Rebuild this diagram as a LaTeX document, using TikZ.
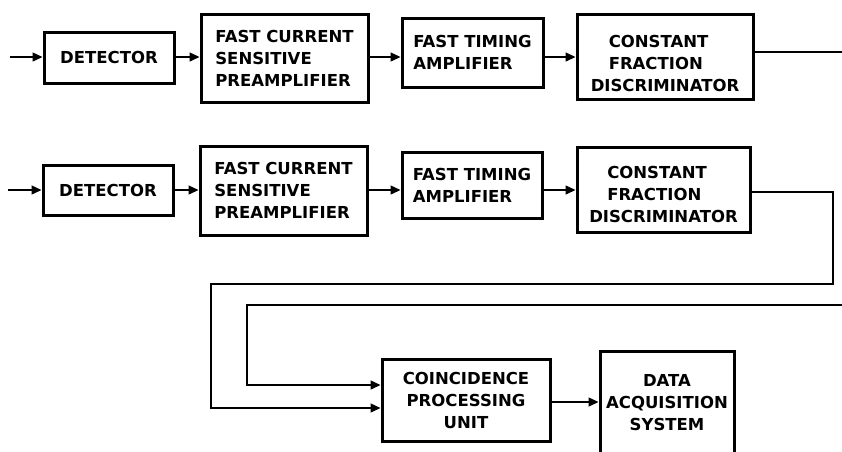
\documentclass[tikz,border=0pt]{standalone}
\usepackage{fontspec}
\setmainfont{DejaVu Sans}
\usetikzlibrary{arrows.meta}
\tikzset{
  blk/.style={draw,line width=3pt,align=left,inner sep=0pt,
    font=\fontsize{16.5}{22}\selectfont\bfseries},
  arr/.style={line width=1.4pt,-{Triangle[length=10pt,width=9pt]}},
  wire/.style={line width=1.4pt}
}
\begin{document}
\begin{tikzpicture}[x=1pt,y=-1pt]
\useasboundingbox (0,0) rectangle (842,451);
% first channel
\node[blk,minimum width=130pt,minimum height=51pt] (det1) at (109,57.5) {DETECTOR};
\node[blk,minimum width=167pt,minimum height=88pt] (pre1) at (284.5,58) {FAST CURRENT\\SENSITIVE\\PREAMPLIFIER};
\node[blk,minimum width=141pt,minimum height=69pt] (amp1) at (472.5,52.5) {FAST TIMING\\AMPLIFIER};
\node[blk,minimum width=176pt,minimum height=85pt] (cfd1) at (665,56.5) {\rule{0pt}{26pt}\hspace*{18pt}CONSTANT\\\hspace*{18pt}FRACTION\\DISCRIMINATOR};
% second channel
\node[blk,minimum width=130pt,minimum height=50pt] (det2) at (108,190) {DETECTOR};
\node[blk,minimum width=167pt,minimum height=89pt] (pre2) at (283.5,190.5) {FAST CURRENT\\SENSITIVE\\PREAMPLIFIER};
\node[blk,minimum width=140pt,minimum height=66pt] (amp2) at (472,185) {FAST TIMING\\AMPLIFIER};
\node[blk,minimum width=173pt,minimum height=85pt] (cfd2) at (663.5,189.5) {\rule{0pt}{23pt}\hspace*{18pt}CONSTANT\\\hspace*{18pt}FRACTION\\DISCRIMINATOR};
% coincidence and data acquisition
\node[blk,align=center,minimum width=168pt,minimum height=82pt] (coin) at (466,400) {COINCIDENCE\\PROCESSING\\UNIT};
\node[blk,align=center,minimum width=134pt,minimum height=104pt] (daq) at (667,403) {DATA\\ACQUISITION\\SYSTEM};

\coordinate (rowA) at (0,57);
\coordinate (rowB) at (0,190);
\coordinate (inA) at (10,57);
\coordinate (inB) at (8,190);
\coordinate (outA) at (842,52);
\coordinate (turnB) at (833,192);
\coordinate (loopB) at (211,284);
\coordinate (edgeA) at (842,305);
\coordinate (loopA) at (247,305);
\coordinate (coinA) at (0,385);
\coordinate (coinB) at (0,408);
\coordinate (rowC) at (0,402);

\draw[arr] (inA) -- (det1.west |- rowA);
\draw[arr] (det1.east |- rowA) -- (pre1.west |- rowA);
\draw[arr] (pre1.east |- rowA) -- (amp1.west |- rowA);
\draw[arr] (amp1.east |- rowA) -- (cfd1.west |- rowA);
\draw[wire] (cfd1.east |- outA) -- (outA);

\draw[arr] (inB) -- (det2.west |- rowB);
\draw[arr] (det2.east |- rowB) -- (pre2.west |- rowB);
\draw[arr] (pre2.east |- rowB) -- (amp2.west |- rowB);
\draw[arr] (amp2.east |- rowB) -- (cfd2.west |- rowB);

\draw[arr] (cfd2.east |- turnB) -- (turnB) |- (loopB) |- (coin.west |- coinB);
\draw[arr] (edgeA) -- (loopA) |- (coin.west |- coinA);
\draw[arr] (coin.east |- rowC) -- (daq.west |- rowC);
\end{tikzpicture}
\end{document}
